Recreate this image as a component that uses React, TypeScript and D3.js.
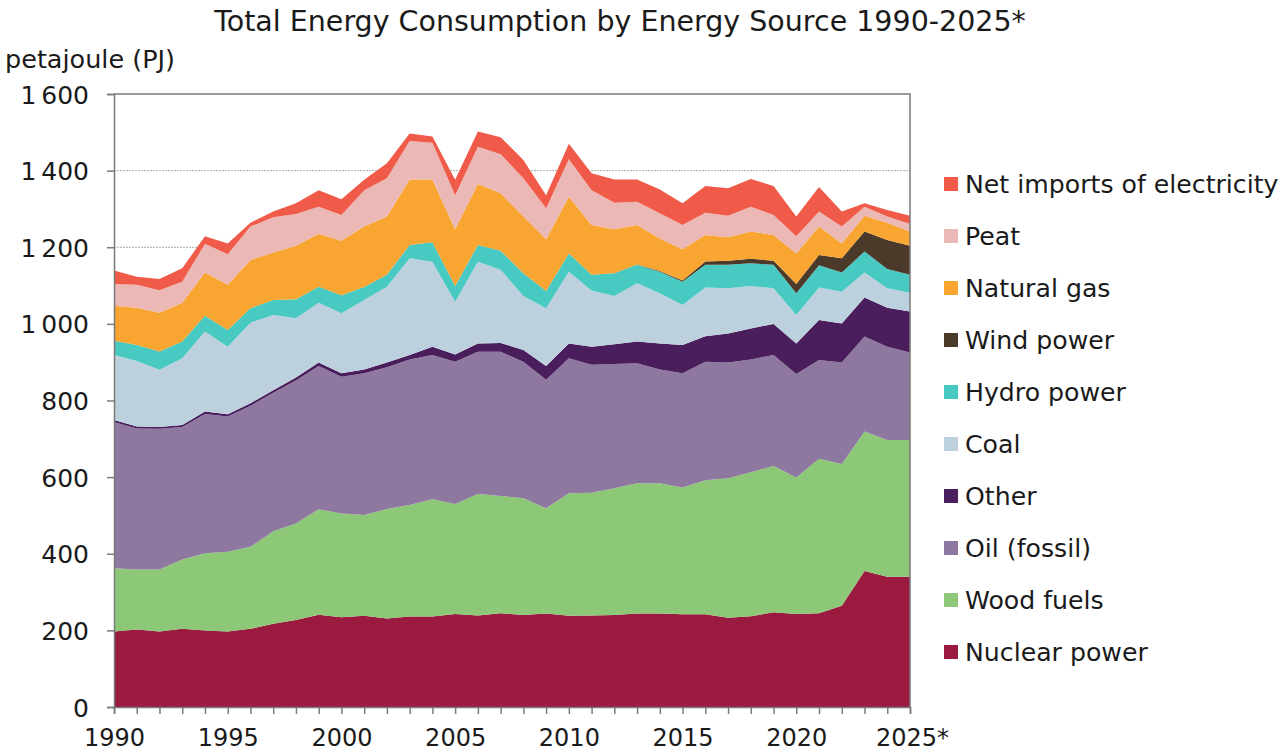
import { useEffect, useRef } from 'react';
import * as d3 from 'd3';

// Years 1990–2025 (2025 is preliminary, marked with *)
const years = d3.range(1990, 2026);

// Values in PJ
const nuclear = [197, 202, 197, 204, 200, 197, 204, 217, 227, 241, 234, 238, 231, 236, 236, 243, 239, 245, 240, 244, 238, 239, 240, 244, 244, 242, 242, 233, 237, 247, 243, 245, 264, 355, 340, 340];
const woodFuels = [165, 157, 162, 181, 201, 208, 214, 242, 252, 275, 271, 263, 286, 291, 306, 287, 317, 306, 305, 275, 320, 320, 331, 340, 340, 331, 350, 364, 376, 382, 356, 403, 370, 364, 357, 357];
const oilFossil = [382, 368, 367, 346, 364, 353, 368, 361, 373, 374, 357, 370, 370, 380, 377, 371, 371, 376, 356, 335, 352, 334, 324, 313, 297, 298, 309, 302, 294, 290, 270, 258, 265, 248, 243, 228];
const other = [5, 5, 5, 5, 6, 6, 7, 7, 8, 9, 9, 10, 12, 12, 21, 19, 22, 23, 31, 36, 39, 47, 52, 57, 68, 74, 67, 76, 81, 81, 80, 104, 102, 102, 102, 107];
const coal = [170, 171, 149, 174, 209, 176, 210, 196, 155, 156, 157, 181, 198, 252, 222, 138, 213, 191, 141, 151, 187, 147, 126, 152, 131, 104, 127, 118, 111, 93, 74, 85, 83, 65, 51, 49];
const hydro = [37, 42, 48, 44, 41, 44, 38, 39, 49, 42, 47, 34, 31, 35, 51, 41, 44, 50, 59, 45, 48, 41, 59, 48, 56, 61, 59, 61, 59, 61, 57, 58, 50, 55, 50, 47];
const wind = [0, 0, 0, 0, 0, 0, 0, 0, 0, 0, 0, 0, 0, 0, 0, 0, 0, 0, 0, 0, 0, 0, 0, 1, 2, 3, 9, 11, 12, 11, 24, 27, 37, 52, 76, 76];
const naturalGas = [91, 97, 101, 101, 113, 118, 126, 124, 140, 138, 142, 158, 152, 171, 164, 148, 159, 150, 148, 135, 148, 130, 115, 103, 85, 82, 69, 61, 71, 67, 80, 74, 39, 41, 45, 37];
const peat = [57, 60, 59, 55, 75, 80, 87, 92, 83, 71, 67, 95, 100, 100, 96, 89, 97, 102, 100, 81, 98, 91, 69, 61, 66, 63, 58, 56, 65, 52, 45, 39, 44, 24, 16, 20];
const netImports = [35, 21, 29, 35, 20, 28, 10, 15, 28, 43, 41, 27, 39, 20, 16, 40, 40, 44, 48, 34, 40, 44, 61, 58, 62, 57, 70, 72, 72, 76, 51, 64, 39, 9, 17, 21];

// Stack order bottom → top
const seriesKeys = ['nuclear', 'wood', 'oil', 'other', 'coal', 'hydro', 'wind', 'gas', 'peat', 'net'];
const seriesLabels: Record<string, string> = {
  nuclear: 'Nuclear power',
  wood: 'Wood fuels',
  oil: 'Oil (fossil)',
  other: 'Other',
  coal: 'Coal',
  hydro: 'Hydro power',
  wind: 'Wind power',
  gas: 'Natural gas',
  peat: 'Peat',
  net: 'Net imports of electricity',
};
const seriesColors: Record<string, string> = {
  nuclear: '#9a1a40',
  wood: '#8dc878',
  oil: '#8e78a0',
  other: '#4a1e5c',
  coal: '#bcd0dd',
  hydro: '#48c9c1',
  wind: '#4b3a2a',
  gas: '#f8a531',
  peat: '#ebb8b6',
  net: '#f05a48',
};

const yTicks = [0, 200, 400, 600, 800, 1000, 1200, 1400, 1600];
const xLabelYears = [1990, 1995, 2000, 2005, 2010, 2015, 2020, 2025];

const FONT = '"DejaVu Sans", sans-serif';
const TEXT = '#1a1a1a';
const AXIS = '#7a7a7a';

export default function App() {
  const ref = useRef<SVGSVGElement>(null);

  useEffect(() => {
    if (!ref.current) return;
    const svg = d3.select(ref.current);
    svg.selectAll('*').remove();

    const margin = { top: 94, right: 370, bottom: 47, left: 114 };
    const W = 1280;
    const H = 754;
    const x0 = margin.left;
    const x1 = W - margin.right;
    const y0 = H - margin.bottom;
    const y1 = margin.top;

    const rows = years.map((year, i) => ({
      year,
      nuclear: nuclear[i],
      wood: woodFuels[i],
      oil: oilFossil[i],
      other: other[i],
      coal: coal[i],
      hydro: hydro[i],
      wind: wind[i],
      gas: naturalGas[i],
      peat: peat[i],
      net: netImports[i],
    }));

    const x = d3.scaleLinear().domain([1990, 2025]).range([x0, x1]);
    const y = d3.scaleLinear().domain([0, 1600]).range([y0, y1]);

    const stacked = d3.stack<any>().keys(seriesKeys)(rows);

    // Gridlines (dotted)
    svg
      .append('g')
      .selectAll('line')
      .data(yTicks.filter(t => t > 0 && t < 1600))
      .join('line')
      .attr('x1', x0)
      .attr('x2', x1)
      .attr('y1', d => y(d))
      .attr('y2', d => y(d))
      .attr('stroke', '#a8a8a8')
      .attr('stroke-width', 1)
      .attr('stroke-dasharray', '2,1');

    const area = d3
      .area<any>()
      .x(d => x(d.data.year))
      .y0(d => y(d[0]))
      .y1(d => y(d[1]));

    svg
      .append('g')
      .selectAll('path')
      .data(stacked)
      .join('path')
      .attr('fill', d => seriesColors[d.key])
      .attr('d', area);

    // Frame: top and right
    svg
      .append('path')
      .attr('d', `M${x0},${y1}H${x1}V${y0}`)
      .attr('fill', 'none')
      .attr('stroke', AXIS)
      .attr('stroke-width', 1.5);

    // Y axis
    const yAxis = svg
      .append('g')
      .attr('transform', `translate(${x0},0)`)
      .call(
        d3
          .axisLeft(y)
          .tickValues(yTicks)
          .tickSize(7)
          .tickPadding(18)
          .tickFormat(d => d3.format(',')(d as number).replace(',', '\u2009'))
      );
    yAxis.select('.domain').attr('stroke', AXIS).attr('stroke-width', 1.5);
    yAxis.selectAll('.tick line').attr('stroke', AXIS).attr('stroke-width', 1.5);
    yAxis
      .selectAll('.tick text')
      .attr('fill', TEXT)
      .attr('font-family', FONT)
      .attr('font-size', 25)
      .attr('dy', '0.36em');

    // X axis: tick every year, labels every five
    const xAxis = svg
      .append('g')
      .attr('transform', `translate(0,${y0})`)
      .call(
        d3
          .axisBottom(x)
          .tickValues(years)
          .tickSize(7)
          .tickPadding(15)
          .tickFormat(d => {
            const v = d as number;
            if (!xLabelYears.includes(v)) return '';
            return v === 2025 ? '2025*' : String(v);
          })
      );
    xAxis.select('.domain').attr('stroke', AXIS).attr('stroke-width', 1.5);
    xAxis.selectAll('.tick line').attr('stroke', AXIS).attr('stroke-width', 1.5);
    xAxis
      .selectAll('.tick text')
      .attr('fill', TEXT)
      .attr('font-family', FONT)
      .attr('font-size', 24)
      .attr('dx', d => ((d as number) === 2025 ? 2 : 0));

    // Title
    svg
      .append('text')
      .attr('x', 620)
      .attr('y', 31)
      .attr('text-anchor', 'middle')
      .attr('fill', TEXT)
      .attr('font-family', FONT)
      .attr('font-size', 28.5)
      .text('Total Energy Consumption by Energy Source 1990-2025*');

    // Unit label
    svg
      .append('text')
      .attr('x', 5)
      .attr('y', 68)
      .attr('fill', TEXT)
      .attr('font-family', FONT)
      .attr('font-size', 25.5)
      .text('petajoule (PJ)');

    // Legend, top entry is the top series
    const legendKeys = [...seriesKeys].reverse();
    const legend = svg
      .append('g')
      .selectAll('g')
      .data(legendKeys)
      .join('g')
      .attr('transform', (_, i) => `translate(944,${184 + i * 52})`);

    legend
      .append('rect')
      .attr('x', 0)
      .attr('y', -7)
      .attr('width', 14)
      .attr('height', 14)
      .attr('fill', d => seriesColors[d]);

    legend
      .append('text')
      .attr('x', 21)
      .attr('y', 0)
      .attr('dy', '0.36em')
      .attr('fill', TEXT)
      .attr('font-family', FONT)
      .attr('font-size', 25.2)
      .text(d => seriesLabels[d]);
  }, []);

  return (
    <svg
      ref={ref}
      width={1280}
      height={754}
      style={{ position: 'absolute', left: 0, top: 0, background: '#fff' }}
    />
  );
}
